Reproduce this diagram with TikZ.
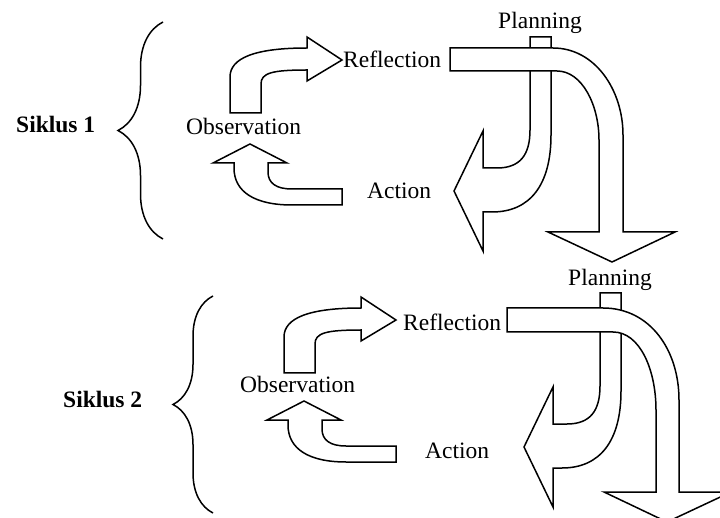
\documentclass[tikz,border=0pt]{standalone}
\usepackage{fontspec}
\setmainfont{Liberation Serif}
\usetikzlibrary{decorations.pathreplacing}

\tikzset{
  bentshape/.style={draw, fill=white, line width=1.5pt, line join=miter},
  lbl/.style={inner sep=0pt, anchor=base west, font=\fontsize{23.5}{28}\selectfont},
  boldlbl/.style={lbl, font=\fontsize{23.5}{28}\selectfont\bfseries},
  curly/.style={decorate, decoration={brace, amplitude=#1}, line width=1.5pt}
}

% arrow from Observation up to Reflection
\newcommand{\obsrefl}{%
  \draw[bentshape] (230,113) -- (230,77) .. controls (230,58) and (255,48) .. (307,48)
    -- (307,37) -- (342,60) -- (307,81) -- (307,70)
    .. controls (272,70) and (261,73) .. (261,84) -- (261,113) -- cycle;}
% arrow from Action up to Observation
\newcommand{\actobs}{%
  \draw[bentshape] (250,144) -- (287,163) -- (268,163) -- (268,172)
    .. controls (268,183) and (276,189) .. (292,189) -- (342,189) -- (342,205) -- (292,205)
    .. controls (255,205) and (234,192) .. (234,168) -- (234,163) -- (213,163) -- cycle;}
% arrow from Planning down to Action
\newcommand{\planact}{%
  \draw[bentshape] (530,37) -- (551,37) -- (551,135) .. controls (551,185) and (530,212) .. (492,212)
    -- (483,212) -- (483,251) -- (454,191) -- (483,131) -- (483,168) -- (497,168)
    .. controls (520,168) and (530,155) .. (530,130) -- cycle;}

\begin{document}
\begin{tikzpicture}[x=1pt, y=-1pt]

\useasboundingbox (0,0) rectangle (720,518);
\clip (0,0) rectangle (720,518);

% Siklus 1
\draw[curly=45] (163,239) -- (163,22);
\node[boldlbl] (sik1) at (16,133) {Siklus 1};

\obsrefl
\actobs
\planact

\draw[bentshape] (450,48) -- (553,48) .. controls (595,48) and (623,90) .. (623,135)
  -- (623,232) -- (675,232) -- (612,262) -- (548,232) -- (599,232) -- (599,140)
  .. controls (599,105) and (582,71) .. (557,71) -- (450,71) -- cycle;

\node[lbl, anchor=base] (plan1) at (540,28.5) {Planning};
\node[lbl] (refl1) at (343,68) {Reflection};
\node[lbl] (obs1) at (186,135) {Observation};
\node[lbl] (act1) at (367,199) {Action};

% Siklus 2
\draw[curly=40] (213,513) -- (213,296);
\node[boldlbl] (sik2) at (63,407) {Siklus 2};

\begin{scope}[shift={(54,260)}]
  \obsrefl
\end{scope}
\begin{scope}[shift={(54,257)}]
  \actobs
\end{scope}
\begin{scope}[shift={(70,256)}]
  \planact
\end{scope}

\draw[bentshape] (507,308) -- (603,308) .. controls (650,308) and (679,350) .. (679,400)
  -- (679,492) -- (731,492) -- (667,522) -- (604,492) -- (656,492) -- (656,410)
  .. controls (656,370) and (640,332) .. (613,332) -- (507,332) -- cycle;

\node[lbl, anchor=base] (plan2) at (610,286) {Planning};
\node[lbl] (refl2) at (403,331) {Reflection};
\node[lbl] (obs2) at (240,392) {Observation};
\node[lbl] (act2) at (425,458) {Action};

\end{tikzpicture}
\end{document}
